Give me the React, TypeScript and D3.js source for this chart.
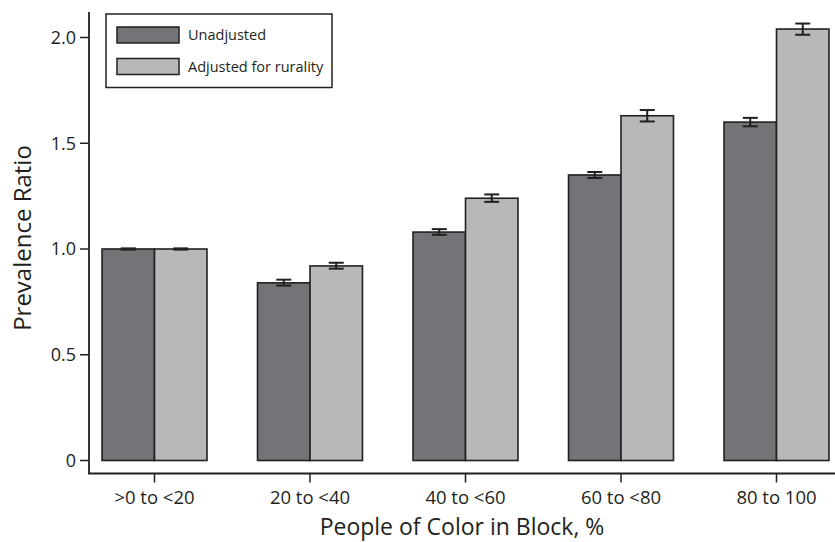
import React from "react";
import * as d3 from "d3";

const categories = [">0 to <20", "20 to <40", "40 to <60", "60 to <80", "80 to 100"];
const seriesNames = ["Unadjusted", "Adjusted for rurality"];
const unadjusted = [1.0, 0.84, 1.08, 1.35, 1.6];
const unadjustedLow = [0.997, 0.827, 1.067, 1.336, 1.58];
const unadjustedHigh = [1.003, 0.855, 1.094, 1.364, 1.62];
const adjusted = [1.0, 0.92, 1.24, 1.63, 2.04];
const adjustedLow = [0.997, 0.907, 1.223, 1.603, 2.013];
const adjustedHigh = [1.003, 0.935, 1.258, 1.657, 2.066];
const yTicks = [0, 0.5, 1.0, 1.5, 2.0];

const colors = ["#737478", "#b7b8ba"];
const stroke = "#231f20";
const font = "'Open Sans', 'Noto Sans', sans-serif";

export default function App() {
  const W = 835, H = 542;
  const y = d3.scaleLinear().domain([0, 2]).range([460.5, 37.5]);
  const x = d3.scaleBand<string>().domain(categories).range([76.75, 854.25]).paddingInner(0.325).paddingOuter(0.1625);
  const inner = d3.scaleBand<number>().domain([0, 1]).range([0, x.bandwidth()]);
  const series = [
    { vals: unadjusted, lo: unadjustedLow, hi: unadjustedHigh },
    { vals: adjusted, lo: adjustedLow, hi: adjustedHigh },
  ];
  const axisX = 89;
  const axisY = 473.5;
  const capW = 15;
  return (
    <svg width={W} height={H} style={{ position: "absolute", left: 0, top: 0, background: "#fff" }} fontFamily={font}>
      <rect x={0} y={0} width={W} height={H} fill="#fff" />
      {/* bars */}
      {series.map((s, si) =>
        categories.map((c, ci) => {
          const bx = (x(c) as number) + (inner(si) as number);
          const by = y(s.vals[ci]);
          return (
            <rect key={`b${si}-${ci}`} x={bx} y={by} width={inner.bandwidth()} height={y(0) - by}
              fill={colors[si]} stroke={stroke} strokeWidth={1.6} />
          );
        })
      )}
      {/* error bars */}
      {series.map((s, si) =>
        categories.map((c, ci) => {
          const cx = (x(c) as number) + (inner(si) as number) + inner.bandwidth() / 2;
          const y1 = y(s.hi[ci]);
          const y2 = y(s.lo[ci]);
          return (
            <g key={`e${si}-${ci}`} stroke={stroke} strokeWidth={2}>
              <line x1={cx} x2={cx} y1={y1} y2={y2} />
              <line x1={cx - capW / 2} x2={cx + capW / 2} y1={y1} y2={y1} />
              <line x1={cx - capW / 2} x2={cx + capW / 2} y1={y2} y2={y2} />
            </g>
          );
        })
      )}
      {/* axes */}
      <line x1={axisX} x2={axisX} y1={12} y2={axisY} stroke={stroke} strokeWidth={1.8} />
      <line x1={axisX - 0.9} x2={W} y1={axisY} y2={axisY} stroke={stroke} strokeWidth={1.8} />
      {yTicks.map((t) => (
        <g key={`yt${t}`}>
          <line x1={axisX - 9} x2={axisX} y1={y(t)} y2={y(t)} stroke={stroke} strokeWidth={1.5} />
          <text x={axisX - 13} y={y(t)} dy="0.36em" textAnchor="end" fontSize={18} fill="#231f20">
            {t === 0 ? "0" : d3.format(".1f")(t)}
          </text>
        </g>
      ))}
      {categories.map((c) => {
        const cx = (x(c) as number) + x.bandwidth() / 2;
        return (
          <g key={`xt${c}`}>
            <line x1={cx} x2={cx} y1={axisY} y2={axisY + 9} stroke={stroke} strokeWidth={1.5} />
            <text x={cx} y={504} textAnchor="middle" fontSize={18.5} fill="#231f20">{c}</text>
          </g>
        );
      })}
      <text x={462} y={535} textAnchor="middle" fontSize={23} fill="#231f20">People of Color in Block, %</text>
      <text transform="translate(31,238) rotate(-90)" textAnchor="middle" fontSize={24} fill="#231f20">Prevalence Ratio</text>
      {/* legend */}
      <rect x={106} y={14} width={226} height={73.5} fill="#fff" stroke={stroke} strokeWidth={1.5} />
      {seriesNames.map((n, i) => (
        <g key={`lg${i}`}>
          <rect x={117} y={27 + i * 31.5} width={62} height={16} fill={colors[i]} stroke={stroke} strokeWidth={1.5} />
          <text x={188} y={35 + i * 31.5} dy="0.35em" fontSize={14.5} fill="#231f20">{n}</text>
        </g>
      ))}
    </svg>
  );
}
